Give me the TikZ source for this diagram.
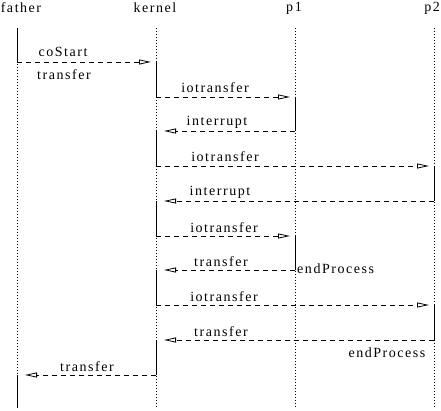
\documentclass[tikz,border=0pt]{standalone}
\usepackage{fontspec}
\setmainfont{Liberation Serif}[LetterSpace=11]
\usetikzlibrary{arrows.meta}
\begin{document}
\begin{tikzpicture}[x=1pt,y=-1pt,
  lbl/.style={inner sep=0pt,font=\fontsize{14}{16}\selectfont},
  life/.style={line width=0.8pt,dash pattern=on 0.8pt off 2.2pt},
  act/.style={line width=0.9pt},
  msg/.style={line width=0.8pt,dash pattern=on 5pt off 4pt,
    -{Triangle[open,length=12pt,width=5pt,line width=0.8pt]}},
  msgr/.style={msg,shorten >=5pt},
  msgl/.style={msg,shorten >=8pt}]
\useasboundingbox (0,0) rectangle (441,411);
% headers
\node[lbl,anchor=west] (hf) at (0.6,8) {father};
\node[lbl] (hk) at (155,8) {kernel};
\node[lbl] (hp1) at (294,8) {p1};
\node[lbl,anchor=east] (hp2) at (440.2,8) {p2};
% lifeline ends
\foreach \n/\x in {f/17,k/156,a/295,b/434}{
  \coordinate (\n top) at (\x,28);
  \coordinate (\n bot) at (\x,408);
  \draw[life] (\n top) -- (\n bot);
}
% event points
\coordinate (f1) at (17,62);
\coordinate (k1) at (156,62);
\coordinate (k2) at (156,97);
\coordinate (a2) at (295,97);
\coordinate (a3) at (295,131);
\coordinate (k3) at (156,131);
\coordinate (k4) at (156,166);
\coordinate (b4) at (434,166);
\coordinate (b5) at (434,201);
\coordinate (k5) at (156,201);
\coordinate (k6) at (156,236);
\coordinate (a6) at (295,236);
\coordinate (a7) at (295,270);
\coordinate (k7) at (156,270);
\coordinate (k8) at (156,305);
\coordinate (b8) at (434,305);
\coordinate (b9) at (434,340);
\coordinate (k9) at (156,340);
\coordinate (k10) at (156,375);
\coordinate (f10) at (17,375);
% activations
\draw[act] (ftop) -- (f1);
\draw[act] (k1) -- (k2);
\draw[act] (a2) -- (a3);
\draw[act] (k3) -- (k4);
\draw[act] (b4) -- (b5);
\draw[act] (k5) -- (k6);
\draw[act] (a6) -- (a7);
\draw[act] (k7) -- (k8);
\draw[act] (b8) -- (b9);
\draw[act] (k9) -- (k10);
\draw[act] (f10) -- (fbot);
% messages
\draw[msgr] (f1) -- (k1);
\draw[msgr] (k2) -- (a2);
\draw[msgl] (a3) -- (k3);
\draw[msgr] (k4) -- (b4);
\draw[msgl] (b5) -- (k5);
\draw[msgr] (k6) -- (a6);
\draw[msgl] (a7) -- (k7);
\draw[msgr] (k8) -- (b8);
\draw[msgl] (b9) -- (k9);
\draw[msgl] (k10) -- (f10);
% labels
\node[lbl] (l1) at (63,52) {coStart};
\node[lbl] (l1b) at (64,75) {transfer};
\node[lbl] (l2) at (215,88) {iotransfer};
\node[lbl] (l3) at (217,122) {interrupt};
\node[lbl] (l4) at (225,157) {iotransfer};
\node[lbl] (l5) at (220,192) {interrupt};
\node[lbl] (l6) at (224,228) {iotransfer};
\node[lbl] (l7) at (221,262) {transfer};
\node[lbl,anchor=west] (e1) at (297,269) {endProcess};
\node[lbl] (l8) at (224,297) {iotransfer};
\node[lbl] (l9) at (221,332) {transfer};
\node[lbl] (e2) at (387,353) {endProcess};
\node[lbl] (l10) at (87,367) {transfer};
\end{tikzpicture}
\end{document}
